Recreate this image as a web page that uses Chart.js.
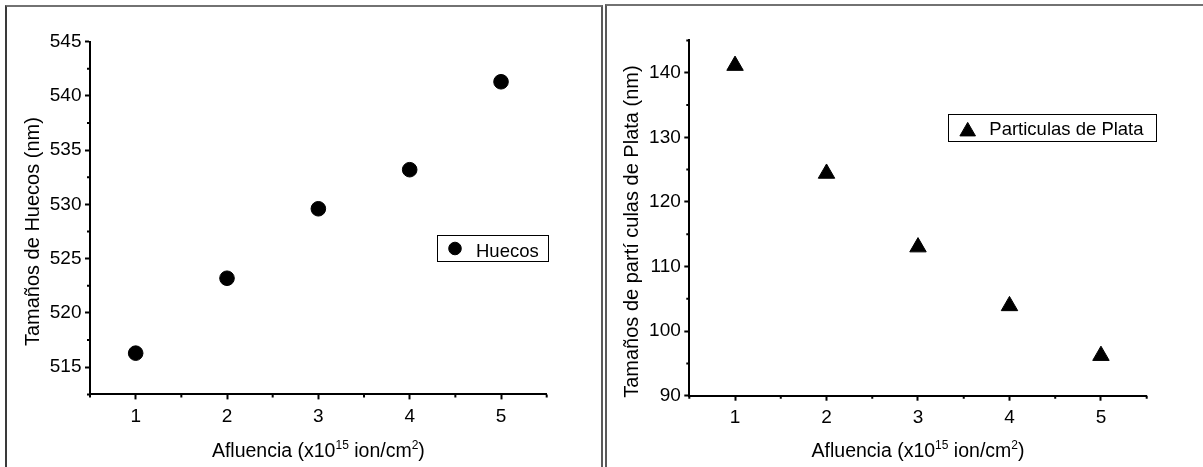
<!DOCTYPE html>
<html>
<head>
<meta charset="utf-8">
<script src="https://cdn.jsdelivr.net/npm/chart.js@4.4.0/dist/chart.umd.min.js"></script>
<style>
  body { margin: 0; background: #fff; width: 1203px; height: 467px; overflow: hidden; position: relative; }
  .frame { position: absolute; box-sizing: border-box; }
  #frameLeft { left: 5px; top: 5px; width: 598px; height: 480px; border-top: 2px solid #727272; border-left: 2px solid #3a3a3a; border-right: 2px solid #5a5a5a; }
  #frameRight { left: 605px; top: 4px; width: 610px; height: 480px; border-top: 2px solid #727272; border-left: 2px solid #5a5a5a; }
  canvas { position: absolute; top: 0; }
  #chartLeft { left: 0; }
  #chartRight { left: 607px; }
</style>
</head>
<body>
<div class="frame" id="frameLeft"></div>
<div class="frame" id="frameRight"></div>
<canvas id="chartLeft" width="601" height="467"></canvas>
<canvas id="chartRight" width="596" height="467"></canvas>
<script>
// datos
const fluence = [1, 2, 3, 4, 5];
const holeSizes = [516.3, 523.2, 529.6, 533.2, 541.3];
const particleSizes = [141.1, 124.4, 113.0, 103.9, 96.2];
const xTicks = [1, 2, 3, 4, 5];
const holeTicks = [515, 520, 525, 530, 535, 540, 545];
const particleTicks = [90, 100, 110, 120, 130, 140];

const FONT = '"Liberation Sans", Arial, sans-serif';

function toPoints(ys) {
    return fluence.map((x, i) => ({ x: x, y: ys[i] }));
}

// titulos, leyenda y ticks menores (estilo Origin)
const decor = {
    id: 'decor',
    afterDraw(chart, args, opts) {
        const ctx = chart.ctx;
        const xs = chart.scales.x, ys = chart.scales.y;
        const area = chart.chartArea;
        ctx.save();

        // ticks menores
        ctx.strokeStyle = '#000';
        ctx.lineWidth = 2;
        ctx.beginPath();
        xs.ticks.forEach(t => {
            if (!xTicks.includes(t.value)) {
                const px = xs.getPixelForValue(t.value);
                ctx.moveTo(px, area.bottom);
                ctx.lineTo(px, area.bottom + 3);
            }
        });
        ys.ticks.forEach(t => {
            if (!opts.majorY.includes(t.value)) {
                const py = ys.getPixelForValue(t.value);
                ctx.moveTo(area.left, py);
                ctx.lineTo(area.left - 3, py);
            }
        });
        ctx.stroke();

        ctx.fillStyle = '#000';
        ctx.textBaseline = 'alphabetic';

        // titulo eje y
        ctx.save();
        ctx.translate(opts.yTitleX, opts.yTitleY);
        ctx.rotate(-Math.PI / 2);
        ctx.font = '20px ' + FONT;
        ctx.textAlign = 'center';
        ctx.fillText(opts.yTitle, 0, 0);
        ctx.restore();

        // titulo eje x con superindices
        const parts = [
            { t: 'Afluencia (x10' },
            { t: '15', sup: true },
            { t: ' ion/cm' },
            { t: '2', sup: true },
            { t: ')' }
        ];
        ctx.textAlign = 'left';
        let total = 0;
        parts.forEach(p => {
            ctx.font = (p.sup ? '12px ' : '19.5px ') + FONT;
            p.w = ctx.measureText(p.t).width;
            total += p.w;
        });
        let cx = (area.left + area.right) / 2 - total / 2;
        parts.forEach(p => {
            ctx.font = (p.sup ? '12px ' : '19.5px ') + FONT;
            ctx.fillText(p.t, cx, opts.xTitleY - (p.sup ? 7.5 : 0));
            cx += p.w;
        });

        // leyenda
        const lg = opts.legend;
        ctx.lineWidth = 1;
        ctx.strokeStyle = '#000';
        ctx.strokeRect(lg.x, lg.y, lg.w, lg.h);
        ctx.fillStyle = '#000';
        Chart.helpers.drawPoint(ctx, { pointStyle: lg.style, radius: lg.radius, rotation: 0, borderWidth: 1 }, lg.mx, lg.my);
        ctx.font = '18.5px ' + FONT;
        ctx.fillText(lg.text, lg.tx, lg.ty);

        ctx.restore();
    }
};

function makeChart(id, cfg) {
    const ctx = document.getElementById(id);
    return new Chart(ctx, {
        type: 'scatter',
        data: {
            datasets: [{
                label: cfg.label,
                data: toPoints(cfg.values),
                pointStyle: cfg.style,
                pointRadius: cfg.radius,
                backgroundColor: '#000',
                borderColor: '#000',
                borderWidth: 1,
                showLine: false
            }]
        },
        options: {
            responsive: false,
            animation: false,
            events: [],
            layout: { padding: { left: 0, top: cfg.top, right: cfg.right, bottom: 0 } },
            scales: {
                x: {
                    type: 'linear',
                    min: 0.5,
                    max: 5.5,
                    afterFit: s => { s.height = cfg.xHeight; },
                    border: { display: true, color: '#000', width: 2 },
                    grid: {
                        drawOnChartArea: false,
                        tickLength: 5,
                        tickWidth: 2,
                        tickColor: c => (c.tick && xTicks.includes(c.tick.value)) ? '#000' : 'rgba(0,0,0,0)'
                    },
                    ticks: {
                        stepSize: 0.5,
                        autoSkip: false,
                        maxRotation: 0,
                        padding: 6,
                        color: '#000',
                        font: { family: FONT, size: 19 },
                        callback: v => xTicks.includes(v) ? String(v) : ''
                    }
                },
                y: {
                    type: 'linear',
                    min: cfg.yMin,
                    max: cfg.yMax,
                    afterFit: s => { s.width = cfg.yWidth; },
                    border: { display: true, color: '#000', width: 2 },
                    grid: {
                        drawOnChartArea: false,
                        tickLength: 5,
                        tickWidth: 2,
                        tickColor: c => (c.tick && cfg.majorY.includes(c.tick.value)) ? '#000' : 'rgba(0,0,0,0)'
                    },
                    ticks: {
                        stepSize: cfg.yStep,
                        autoSkip: false,
                        padding: 3.5,
                        color: '#000',
                        font: { family: FONT, size: 19 },
                        callback: v => cfg.majorY.includes(v) ? String(v) : ''
                    }
                }
            },
            plugins: {
                legend: { display: false },
                tooltip: { enabled: false },
                decor: {
                    majorY: cfg.majorY,
                    yTitle: cfg.yTitle,
                    yTitleX: cfg.yTitleX,
                    yTitleY: 231.6,
                    xTitleY: 456.5,
                    legend: cfg.legend
                }
            }
        },
        plugins: [decor]
    });
}

makeChart('chartLeft', {
    label: 'Huecos',
    values: holeSizes,
    style: 'circle',
    radius: 7.3,
    yMin: 512.5,
    yMax: 545,
    yStep: 2.5,
    majorY: holeTicks,
    top: 41.6,
    right: 54.3,
    xHeight: 72.6,
    yWidth: 90,
    yTitle: 'Tamaños de Huecos (nm)',
    yTitleX: 38.5,
    legend: { x: 437.5, y: 235.5, w: 111, h: 26, style: 'circle', radius: 6.3, mx: 455, my: 248.5, text: 'Huecos', tx: 476, ty: 256.5 }
});

makeChart('chartRight', {
    label: 'Particulas de Plata',
    values: particleSizes,
    style: 'triangle',
    radius: 9.5,
    yMin: 90,
    yMax: 145,
    yStep: 5,
    majorY: particleTicks,
    top: 40.4,
    right: 56.3,
    xHeight: 71.3,
    yWidth: 82.3,
    yTitle: 'Tamaños de partí culas de Plata (nm)',
    yTitleX: 30.5,
    legend: { x: 341.5, y: 114.5, w: 208, h: 27, style: 'triangle', radius: 9, mx: 360.7, my: 131.4, text: 'Particulas de Plata', tx: 382.3, ty: 135 }
});
</script>
</body>
</html>
